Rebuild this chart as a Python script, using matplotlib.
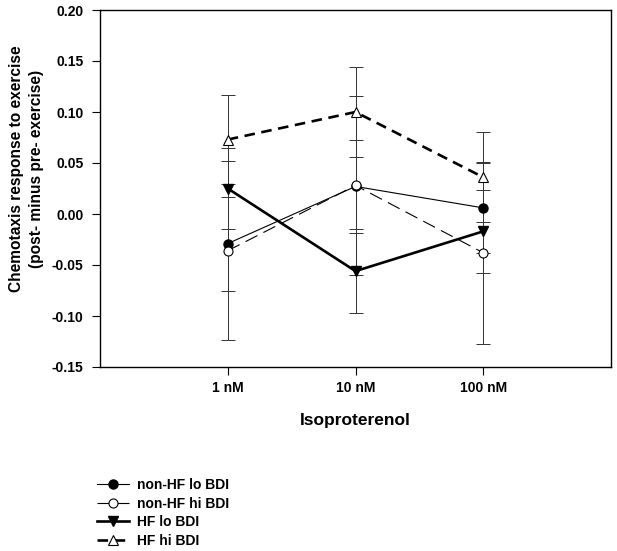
import matplotlib
matplotlib.use("Agg")
import matplotlib.pyplot as plt

plt.rcParams['font.family'] = ['Liberation Sans', 'DejaVu Sans']
plt.rcParams['font.weight'] = 'bold'

doses = ['1 nM', '10 nM', '100 nM']
xpos = [1, 2, 3]

nonhf_lo = [-0.029, 0.027, 0.006]
nonhf_lo_err = [0.046, 0.046, 0.044]
nonhf_hi = [-0.036, 0.028, -0.038]
nonhf_hi_err = [0.088, 0.088, 0.089]
hf_lo = [0.025, -0.056, -0.017]
hf_lo_err = [0.040, 0.041, 0.041]
hf_hi = [0.073, 0.100, 0.036]
hf_hi_err = [0.044, 0.044, 0.044]

fig = plt.figure(figsize=(6.17, 5.51), dpi=100)
ax = fig.add_axes([100 / 617, 1 - 367 / 551, 511 / 617, 357 / 551])

series = [
    (nonhf_lo, nonhf_lo_err, 'non-HF lo BDI', dict(color='black', lw=0.8, ls='-', marker='o',
                                                   mfc='black', mec='black', ms=6.5)),
    (nonhf_hi, nonhf_hi_err, 'non-HF hi BDI', dict(color='black', lw=0.8, ls=(0, (12, 6)), marker='o',
                                                   mfc='white', mec='black', ms=6.5, mew=0.8)),
    (hf_lo, hf_lo_err, 'HF lo BDI', dict(color='black', lw=1.9, ls='-', marker='v',
                                         mfc='black', mec='black', ms=7)),
    (hf_hi, hf_hi_err, 'HF hi BDI', dict(color='black', lw=1.9, ls=(0, (4, 2.5)), marker='^',
                                         mfc='white', mec='black', ms=7, mew=0.8)),
]

# error bars first, then lines + markers on top
for vals, errs, label, style in series:
    ax.errorbar(xpos, vals, yerr=errs, fmt='none', ecolor='#333333', elinewidth=0.7,
                capsize=5, capthick=0.7, zorder=1)
for vals, errs, label, style in series:
    ax.plot(xpos, vals, label=label, zorder=3, **style)

ax.set_xlim(0, 4)
ax.set_ylim(-0.15, 0.20)
ax.set_xticks(xpos)
ax.set_xticklabels(doses)
ax.set_yticks([-0.15, -0.10, -0.05, 0.00, 0.05, 0.10, 0.15, 0.20])
ax.set_yticklabels(['%.2f' % v for v in ax.get_yticks()])
ax.tick_params(direction='out', length=6, width=0.8, labelsize=10, pad=6)
ax.tick_params(axis='x', pad=4)
for lab in ax.get_xticklabels() + ax.get_yticklabels():
    lab.set_fontweight('bold')
for sp in ax.spines.values():
    sp.set_linewidth(1.0)

ax.set_xlabel('Isoproterenol', fontsize=12.5, fontweight='bold', labelpad=13)
ax.set_ylabel('Chemotaxis response to exercise\n(post- minus pre- exercise)',
              fontsize=11.2, fontweight='bold', linespacing=1.4)
ax.yaxis.set_label_coords(-0.11, 0.555)

leg = fig.legend(loc='upper left', bbox_to_anchor=(97 / 617, 1 - 478 / 551), frameon=False,
                 fontsize=10, handlelength=2.3, labelspacing=0.33, handletextpad=0.55,
                 borderaxespad=0, borderpad=0)
for t in leg.get_texts():
    t.set_fontweight('bold')

fig.savefig('out.png', dpi=100)
